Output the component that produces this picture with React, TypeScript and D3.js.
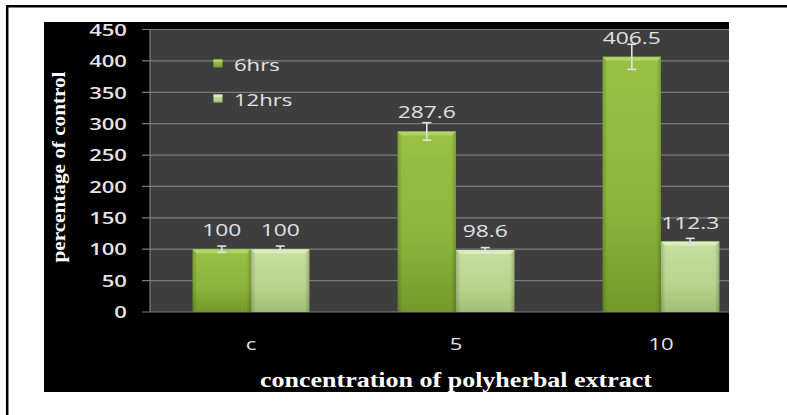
import React from "react";
import * as d3 from "d3";

const categories = ["c", "5", "10"];
const seriesNames = ["6hrs", "12hrs"];
const values6 = [100, 287.6, 406.5];
const values12 = [100, 98.6, 112.3];
const errors6 = [5, 14, 20];
const errors12 = [5, 4, 5];
const labels6 = ["100", "287.6", "406.5"];
const labels12 = ["100", "98.6", "112.3"];
const yTicks = [0, 50, 100, 150, 200, 250, 300, 350, 400, 450];

const W = 787;
const H = 415;
const plotLeft = 150;
const plotRight = 729;
const plotTop = 29.5;
const plotBottom = 312;

const sans = "'Open Sans', 'DejaVu Sans', sans-serif";
const serif = "'Liberation Serif', 'Times New Roman', serif";
const SX = 1.38;

function T(props: {
  x: number;
  y: number;
  anchor?: string;
  size?: number;
  weight?: number | string;
  fill?: string;
  baseline?: string;
  children: React.ReactNode;
}) {
  const { x, y, anchor = "start", size = 16, weight = 400, fill = "#e4e4e4", baseline, children } = props;
  return (
    <text
      transform={`translate(${x},${y}) scale(${SX},1)`}
      textAnchor={anchor}
      dominantBaseline={baseline}
      fill={fill}
      fontFamily={sans}
      fontSize={size}
      fontWeight={weight}
    >
      {children}
    </text>
  );
}

export default function App() {
  const y = d3.scaleLinear().domain([0, 450]).range([plotBottom, plotTop]);
  const x = d3
    .scaleBand<string>()
    .domain(categories)
    .range([148.5, 763.5])
    .paddingInner(0.43)
    .paddingOuter(0.215);
  const xs = d3.scaleBand<string>().domain(seriesNames).range([0, x.bandwidth()]);

  const series = [
    { name: seriesNames[0], vals: values6, errs: errors6, labels: labels6, grad: "g6", top: "#b5d86a" },
    { name: seriesNames[1], vals: values12, errs: errors12, labels: labels12, grad: "g12", top: "#dcefc0" },
  ];

  return (
    <svg
      width={W}
      height={H}
      viewBox={`0 0 ${W} ${H}`}
      style={{ position: "fixed", left: 0, top: 0, display: "block" }}
    >
      <defs>
        <linearGradient id="g6" x1="0" y1="0" x2="0" y2="1">
          <stop offset="0" stopColor="#99c143" />
          <stop offset="0.6" stopColor="#8bb43b" />
          <stop offset="1" stopColor="#72992b" />
        </linearGradient>
        <linearGradient id="g12" x1="0" y1="0" x2="0" y2="1">
          <stop offset="0" stopColor="#c6e0a0" />
          <stop offset="0.6" stopColor="#b8d48e" />
          <stop offset="1" stopColor="#a0bf73" />
        </linearGradient>
        <linearGradient id="edge" x1="0" y1="0" x2="1" y2="0">
          <stop offset="0" stopColor="#000" stopOpacity="0.18" />
          <stop offset="0.08" stopColor="#000" stopOpacity="0" />
          <stop offset="0.92" stopColor="#000" stopOpacity="0" />
          <stop offset="1" stopColor="#000" stopOpacity="0.2" />
        </linearGradient>
        <clipPath id="plotClip">
          <rect x={44} y={22} width={plotRight - 44} height={392 - 22} />
        </clipPath>
      </defs>

      <rect x={0} y={0} width={W} height={H} fill="#ffffff" />
      {/* outer frame */}
      <line x1={6} y1={6.2} x2={W} y2={6.2} stroke="#000" strokeWidth={2.5} />
      <line x1={7.2} y1={5} x2={7.2} y2={H} stroke="#000" strokeWidth={2.5} />

      {/* chart background */}
      <rect x={44} y={22} width={plotRight - 44} height={392 - 22} fill="#000" />
      <rect x={plotLeft} y={plotTop} width={plotRight - plotLeft} height={plotBottom - plotTop} fill="#3e3e3e" />

      {/* gridlines + ticks */}
      {yTicks.map((t) => (
        <g key={t}>
          <line x1={142} x2={plotRight} y1={y(t)} y2={y(t)} stroke="#7c7c7c" strokeWidth={1.2} />
          <T x={127} y={y(t)} anchor="end" baseline="central" size={16} weight={600}>
            {t}
          </T>
        </g>
      ))}
      <line x1={plotLeft} x2={plotLeft} y1={plotTop} y2={plotBottom} stroke="#7c7c7c" strokeWidth={1.2} />

      {/* bars */}
      <g clipPath="url(#plotClip)">
        {categories.map((c, i) =>
          series.map((s) => {
            const bx = (x(c) as number) + (xs(s.name) as number);
            const bw = xs.bandwidth();
            const by = y(s.vals[i]);
            const bh = plotBottom - by;
            const bev = 4;
            return (
              <g key={c + s.name}>
                <rect x={bx} y={by} width={bw} height={bh} fill={`url(#${s.grad})`} />
                <rect x={bx} y={by} width={bw} height={bh} fill="url(#edge)" />
                <path
                  d={`M${bx},${by} L${bx + bw},${by} L${bx + bw - bev},${by + bev} L${bx + bev},${by + bev} Z`}
                  fill={s.top}
                  opacity={0.85}
                />
              </g>
            );
          })
        )}
      </g>

      {/* error bars + value labels */}
      {categories.map((c, i) =>
        series.map((s) => {
          const cx = (x(c) as number) + (xs(s.name) as number) + xs.bandwidth() / 2;
          const v = s.vals[i];
          const e = s.errs[i];
          const yTop = y(v + e);
          const yBot = y(v - e);
          return (
            <g key={"e" + c + s.name}>
              <line x1={cx} x2={cx} y1={yTop} y2={yBot} stroke="#e2e2e2" strokeWidth={1.6} />
              <line x1={cx - 4.5} x2={cx + 4.5} y1={yTop} y2={yTop} stroke="#e2e2e2" strokeWidth={1.6} />
              <line x1={cx - 4.5} x2={cx + 4.5} y1={yBot} y2={yBot} stroke="#e2e2e2" strokeWidth={1.6} />
              <T x={cx} y={y(v) - 13} anchor="middle" size={16.5} fill="#e2e2e2">
                {s.labels[i]}
              </T>
            </g>
          );
        })
      )}

      {/* category labels */}
      {categories.map((c) => (
        <T key={"cat" + c} x={(x(c) as number) + x.bandwidth() / 2} y={344} anchor="middle" baseline="central" size={16}>
          {c}
        </T>
      ))}

      {/* legend */}
      {series.map((s, i) => (
        <g key={"leg" + s.name}>
          <rect x={213.5} y={59.5 + i * 35} width={9} height={8} fill={`url(#${s.grad})`} />
          <rect x={213.5} y={59.5 + i * 35} width={9} height={2.5} fill={s.top} opacity={0.8} />
          <T x={234} y={65 + i * 35} baseline="central" size={16}>
            {s.name}
          </T>
        </g>
      ))}

      {/* axis titles */}
      <text
        transform={`translate(58,167) rotate(-90)`}
        textAnchor="middle"
        dominantBaseline="central"
        fill="#ffffff"
        fontFamily={serif}
        fontWeight="bold"
        fontSize={19}
        textLength={191}
        lengthAdjust="spacingAndGlyphs"
      >
        percentage of control
      </text>
      <text
        x={456}
        y={387}
        textAnchor="middle"
        fill="#ffffff"
        fontFamily={serif}
        fontWeight="bold"
        fontSize={21}
        textLength={392}
        lengthAdjust="spacingAndGlyphs"
      >
        concentration of polyherbal extract
      </text>
    </svg>
  );
}
